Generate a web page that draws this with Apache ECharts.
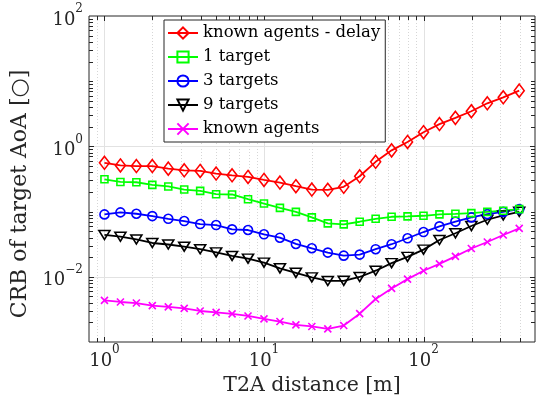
<!DOCTYPE html>
<html>
<head>
<meta charset="utf-8">
<script src="https://cdn.jsdelivr.net/npm/echarts@6/dist/echarts.min.js"></script>
<style>html,body{margin:0;padding:0;background:#fff}#c{width:538px;height:405px}</style>
</head>
<body>
<div id="c"></div>
<script>
// ---- data ----
const distances = [1, 1.259, 1.585, 1.995, 2.512, 3.162, 3.981, 5.012, 6.31, 7.943, 10, 12.59, 15.85, 19.95, 25.12, 31.62, 39.81, 50.12, 63.1, 79.43, 100, 125.9, 158.5, 199.5, 251.2, 316.2, 398.1];
const knownAgentsDelay = [0.56, 0.51, 0.50, 0.50, 0.456, 0.43, 0.42, 0.383, 0.36, 0.34, 0.306, 0.279, 0.245, 0.218, 0.216, 0.24, 0.348, 0.58, 0.87, 1.17, 1.65, 2.2, 2.74, 3.46, 4.58, 5.66, 7.16];
const oneTarget = [0.313, 0.285, 0.282, 0.257, 0.243, 0.218, 0.208, 0.185, 0.183, 0.155, 0.133, 0.114, 0.099, 0.0815, 0.066, 0.0638, 0.0699, 0.0776, 0.0833, 0.0844, 0.0863, 0.0906, 0.0925, 0.0949, 0.099, 0.103, 0.109];
const threeTargets = [0.0906, 0.0973, 0.0927, 0.0853, 0.0776, 0.0716, 0.0644, 0.0622, 0.0534, 0.0522, 0.0449, 0.0398, 0.0319, 0.0274, 0.0235, 0.0211, 0.0219, 0.0265, 0.0316, 0.039, 0.0486, 0.0594, 0.0703, 0.0815, 0.0916, 0.0989, 0.109];
const nineTargets = [0.0438, 0.0412, 0.0374, 0.033, 0.0313, 0.029, 0.0265, 0.0237, 0.0209, 0.019, 0.0165, 0.0135, 0.0115, 0.0098, 0.00863, 0.00869, 0.00993, 0.0124, 0.0162, 0.0202, 0.0261, 0.0367, 0.0465, 0.0601, 0.075, 0.0875, 0.0993];
const knownAgents = [0.00435, 0.00411, 0.00396, 0.00361, 0.00345, 0.00328, 0.00299, 0.00285, 0.0027, 0.00251, 0.00226, 0.00206, 0.00183, 0.00173, 0.00159, 0.00179, 0.00272, 0.00457, 0.00663, 0.00922, 0.0124, 0.0158, 0.0206, 0.0272, 0.0342, 0.0438, 0.0554];
const seriesNames = ['known agents - delay', '1 target', '3 targets', '9 targets', 'known agents'];
const xLabelText = 'T2A distance [m]';
const yLabelText = 'CRB of target AoA [\u25CB]';
const X_MIN = 0.8, X_MAX = 500, Y_MIN = 1e-3, Y_MAX = 1e2;

const FONT = 'DejaVu Serif';
const AX = '#262626';

// grid / tick positions (decade multiples)
const xGrid = [], yGrid = [];
for (let e = -1; e <= 2; e++) for (let m = 1; m <= 9; m++) {
  const v = m * Math.pow(10, e);
  if (v > X_MIN * 1.0001 && v < X_MAX * 0.9999) xGrid.push([v, 1, m === 1 ? 1 : 0]);
}
for (let e = -3; e <= 1; e++) for (let m = 1; m <= 9; m++) {
  const v = m * Math.pow(10, e);
  if (v > Y_MIN * 1.0001 && v < Y_MAX * 0.9999) yGrid.push([1, v, (m === 1 && e % 2 === 0) ? 1 : 0]);
}

function vRender(params, api) {
  const v = api.value(0), major = api.value(2) === 1;
  const pb = api.coord([v, Y_MIN]), pt = api.coord([v, Y_MAX]);
  const tl = major ? 5 : 4;
  const x = Math.round(pb[0]) + 0.5;
  return {type: 'group', children: [
    {type: 'line', shape: {x1: x, y1: pb[1], x2: x, y2: pt[1]}, style: {stroke: major ? '#e2e2e2' : '#d6d6d6', lineWidth: 1, lineDash: major ? null : [1, 2]}},
    {type: 'line', shape: {x1: x, y1: pb[1], x2: x, y2: pb[1] - tl}, style: {stroke: AX, lineWidth: 1}},
    {type: 'line', shape: {x1: x, y1: pt[1], x2: x, y2: pt[1] + tl}, style: {stroke: AX, lineWidth: 1}}
  ]};
}
function hRender(params, api) {
  const v = api.value(1), major = api.value(2) === 1;
  const pl = api.coord([X_MIN, v]), pr = api.coord([X_MAX, v]);
  const tl = major ? 5 : 4;
  const y = Math.round(pl[1]) + 0.5;
  const ch = [
    {type: 'line', shape: {x1: pl[0], y1: y, x2: pl[0] + tl, y2: y}, style: {stroke: AX, lineWidth: 1}},
    {type: 'line', shape: {x1: pr[0], y1: y, x2: pr[0] - tl, y2: y}, style: {stroke: AX, lineWidth: 1}}
  ];
  if (major) ch.unshift({type: 'line', shape: {x1: pl[0], y1: y, x2: pr[0], y2: y}, style: {stroke: '#e2e2e2', lineWidth: 1}});
  return {type: 'group', children: ch};
}

function powLabel(v, evenOnly) {
  const e = Math.log10(v);
  const r = Math.round(e);
  if (Math.abs(e - r) > 1e-6) return '';
  if (evenOnly && r % 2 !== 0) return '';
  return '{b|10}{s|' + String(r).replace('-', '\u2212') + '}';
}
const richLab = {
  b: {fontFamily: FONT, fontSize: 18, color: AX, padding: [8, 0, 0, 0]},
  s: {fontFamily: FONT, fontSize: 12, color: AX, verticalAlign: 'top'}
};

function mkSeries(name, data, color, symbol, size, extra) {
  return Object.assign({
    name: name, type: 'line', data: distances.map((d, i) => [d, data[i]]),
    symbol: symbol, symbolSize: size, showAllSymbol: true, z: 5,
    lineStyle: {color: color, width: 1.8},
    itemStyle: {color: 'rgba(255,255,255,0)', borderColor: color, borderWidth: 1.6},
    emphasis: {disabled: true}
  }, extra || {});
}

const chart = echarts.init(document.getElementById('c'), null, {renderer: 'canvas'});
chart.setOption({
  animation: false,
  backgroundColor: '#fff',
  grid: {left: 89, right: 0, top: 16, bottom: 63, containLabel: false, show: true, borderColor: AX, borderWidth: 1, backgroundColor: 'transparent'},
  legend: {
    orient: 'vertical', left: 164, top: 20,
    backgroundColor: '#fff', borderColor: AX, borderWidth: 1,
    padding: [1, 5, 1, 3], itemGap: 0, itemWidth: 30, itemHeight: 14,
    textStyle: {fontFamily: FONT, fontSize: 16.5, color: '#000', lineHeight: 24},
    data: seriesNames
  },
  xAxis: {
    type: 'log', logBase: 10, min: X_MIN, max: X_MAX,
    name: xLabelText, nameLocation: 'middle', nameGap: 31,
    nameTextStyle: {fontFamily: FONT, fontSize: 20.5, color: AX},
    axisLine: {show: false}, axisTick: {show: false}, splitLine: {show: false}, minorTick: {show: false},
    axisLabel: {formatter: v => powLabel(v, false), rich: richLab, margin: 2, color: AX}
  },
  yAxis: {
    type: 'log', logBase: 10, min: Y_MIN, max: Y_MAX,
    name: yLabelText, nameLocation: 'middle', nameGap: 54,
    nameTextStyle: {fontFamily: FONT, fontSize: 22, color: AX, padding: [0, 30, 0, 0]},
    axisLine: {show: false}, axisTick: {show: false}, splitLine: {show: false},
    axisLabel: {formatter: v => powLabel(v, true), rich: richLab, margin: 6, color: AX}
  },
  series: [
    {type: 'custom', name: 'xgrid', renderItem: vRender, data: xGrid, z: 1, silent: true, clip: false, encode: {x: 0, y: 1}},
    {type: 'custom', name: 'ygrid', renderItem: hRender, data: yGrid, z: 1, silent: true, clip: false, encode: {x: 0, y: 1}},
    mkSeries(seriesNames[4], knownAgents, '#ff00ff', 'path://M0,0L10,10M10,0L0,10', 7),
    mkSeries(seriesNames[3], nineTargets, '#000000', 'triangle', [11, 9], {symbolRotate: 180}),
    mkSeries(seriesNames[2], threeTargets, '#0000ff', 'circle', 9),
    mkSeries(seriesNames[1], oneTarget, '#00ff00', 'rect', 7),
    mkSeries(seriesNames[0], knownAgentsDelay, '#ff0000', 'diamond', [10, 13])
  ]
});
</script>
</body>
</html>
